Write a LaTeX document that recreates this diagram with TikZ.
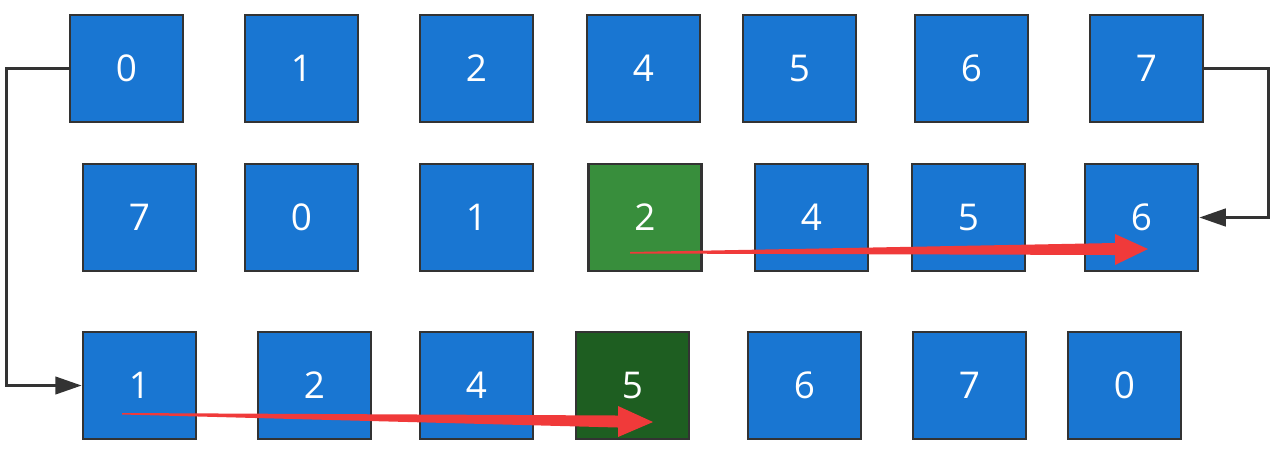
\documentclass[tikz,border=0pt]{standalone}
\usepackage{fontspec}
\setmainfont{Open Sans}
\usetikzlibrary{arrows.meta}
\definecolor{cellblue}{RGB}{25,118,210}
\definecolor{cellgreen}{RGB}{56,142,60}
\definecolor{celldark}{RGB}{30,94,33}
\definecolor{edgegray}{RGB}{51,51,51}
\definecolor{movered}{RGB}{240,58,58}
\tikzset{
	cell/.style={draw=edgegray, line width=1.6pt, fill=cellblue, text=white,
		minimum width=2.26cm, minimum height=2.14cm, inner sep=0pt,
		font=\fontsize{21}{24}\selectfont},
	conn/.style={draw=edgegray, line width=1.5pt, -{Triangle[length=15pt,width=10pt]}}
}
\begin{document}
\begin{tikzpicture}[x=0.02cm,y=-0.02cm]
	\useasboundingbox (0,0) rectangle (1280,468);
	% first row
	\node[cell] (a0) at (126.5,68.5) {0};
	\node[cell] (a1) at (301.5,68.5) {1};
	\node[cell] (a2) at (476.5,68.5) {2};
	\node[cell] (a4) at (643.5,68.5) {4};
	\node[cell] (a5) at (799.5,68.5) {5};
	\node[cell] (a6) at (971.5,68.5) {6};
	\node[cell] (a7) at (1146.5,68.5) {7};
	% second row
	\node[cell] (b7) at (139.5,217.5) {7};
	\node[cell] (b0) at (301.5,217.5) {0};
	\node[cell] (b1) at (476.5,217.5) {1};
	\node[cell, fill=cellgreen] (b2) at (645,217.5) {2};
	\node[cell] (b4) at (811.5,217.5) {4};
	\node[cell] (b5) at (968.5,217.5) {5};
	\node[cell] (b6) at (1141.5,217.5) {6};
	% third row
	\node[cell] (c1) at (139.5,385.5) {1};
	\node[cell] (c2) at (314.5,385.5) {2};
	\node[cell] (c4) at (476.5,385.5) {4};
	\node[cell, fill=celldark] (c5) at (632.5,385.5) {5};
	\node[cell] (c6) at (804.5,385.5) {6};
	\node[cell] (c7) at (969.5,385.5) {7};
	\node[cell] (c0) at (1124.5,385.5) {0};
	
	\draw[conn] (a0.west) -- ++(-62,0) |- (c1.west);
	\draw[conn] (a7.east) -- ++(64,0) |- (b6.east);
	
	% red moves
	\fill[movered] (630,252) -- (1115,243) -- (1115,234) -- (1148,249) -- (1115,265) -- (1115,255) -- (630,253.5) -- cycle;
	\fill[movered] (122,413) -- (618,415.5) -- (618,406) -- (653,422) -- (618,437) -- (618,427.5) -- (122,414.5) -- cycle;
\end{tikzpicture}
\end{document}
